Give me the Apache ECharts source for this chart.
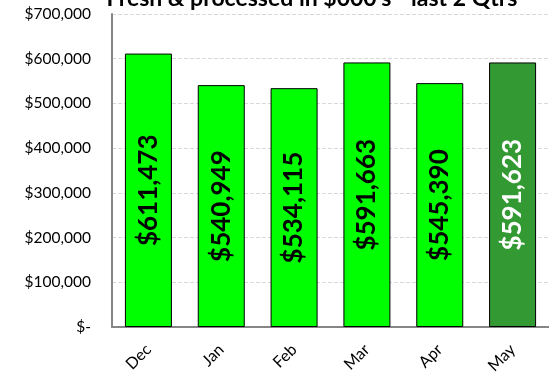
<!DOCTYPE html>
<html>
<head>
<meta charset="utf-8">
<script src="https://cdn.jsdelivr.net/npm/echarts@6/dist/echarts.min.js"></script>
<style>
  html, body { margin: 0; padding: 0; background: #fff; }
  #chart { width: 549px; height: 379px; }
</style>
</head>
<body>
<div id="chart"></div>
<script>
// Monthly fresh & processed sales, last two quarters
const months = ['Dec', 'Jan', 'Feb', 'Mar', 'Apr', 'May'];
const sales = [611473, 540949, 534115, 591663, 545390, 591623];
const yTicks = [0, 100000, 200000, 300000, 400000, 500000, 600000, 700000];

const FONT = 'Lato, "Noto Sans", sans-serif';
const lastIdx = sales.length - 1;

function money(v) {
  if (v === 0) return '$-';
  return '$' + v.toLocaleString('en-US');
}

const chart = echarts.init(document.getElementById('chart'));
chart.setOption({
  animation: false,
  backgroundColor: '#fff',
  title: {
    text: "Fresh & processed in $000's - last 2 Qtrs",
    left: 307,
    top: -18,
    textAlign: 'center',
    textStyle: { fontFamily: FONT, fontWeight: 'bold', fontSize: 23, color: '#000' }
  },
  grid: { left: 112, right: 0, top: 14, bottom: 52, containLabel: false },
  xAxis: {
    type: 'category',
    data: months,
    axisLine: { lineStyle: { color: '#868686', width: 2 } },
    axisTick: { show: false },
    axisLabel: { rotate: 45, margin: 20, fontFamily: FONT, fontSize: 16, color: '#000' }
  },
  yAxis: {
    type: 'value',
    min: yTicks[0],
    max: yTicks[yTicks.length - 1],
    interval: yTicks[1] - yTicks[0],
    axisLine: { show: true, lineStyle: { color: '#868686', width: 2 } },
    axisTick: { show: false },
    splitLine: { lineStyle: { color: '#d9d9d9', type: [4, 2], width: 1 } },
    axisLabel: { margin: 21, fontFamily: FONT, fontSize: 15.5, color: '#000', formatter: money }
  },
  series: [{
    type: 'bar',
    barWidth: 47,
    data: sales.map((v, i) => ({
      value: v,
      itemStyle: { color: i === lastIdx ? '#339933' : '#00ff00' },
      label: { color: i === lastIdx ? '#fff' : '#000' }
    })),
    itemStyle: { borderColor: '#000', borderWidth: 1 },
    label: {
      show: true,
      position: 'inside',
      rotate: 90,
      fontFamily: FONT,
      fontWeight: 'bold',
      fontSize: 26,
      formatter: p => money(p.value)
    }
  }]
});
</script>
</body>
</html>
